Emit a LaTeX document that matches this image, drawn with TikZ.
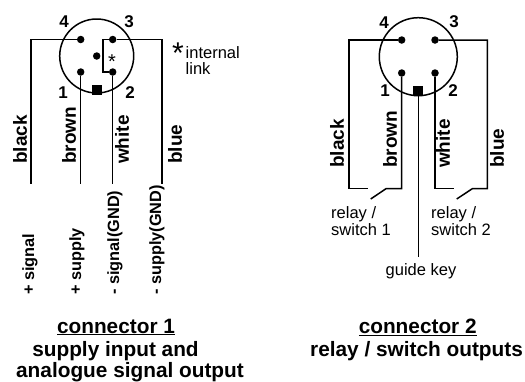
\documentclass[tikz,border=0pt]{standalone}
\usepackage{fontspec}
\setmainfont{Liberation Sans}
\usepackage{tikz}

\tikzset{
  body/.style={draw,circle,line width=1.5pt,inner sep=0pt},
  contactpin/.style={fill,circle,inner sep=0pt,minimum size=7.5pt},
  guidekey/.style={fill,inner sep=0pt,minimum size=10pt},
  wire/.style={line width=1.5pt},
  pinno/.style={font=\fontsize{17}{17}\selectfont\bfseries,inner sep=0pt},
  colour/.style={font=\fontsize{19}{19}\selectfont\bfseries,rotate=90,anchor=west,inner sep=0pt},
  usage/.style={font=\fontsize{16.3}{16.3}\selectfont\bfseries,rotate=90,anchor=west,inner sep=0pt},
  note/.style={font=\fontsize{16.5}{16.5}\selectfont,anchor=west,inner sep=0pt},
  heading/.style={font=\fontsize{20.8}{20.8}\selectfont\bfseries,inner sep=0pt}
}

\begin{document}
\begin{tikzpicture}[x=1pt,y=-1pt]
  \useasboundingbox (0,0) rectangle (525,381);
  %left
  %body and pins
  \node[body,minimum size=74pt,at={(96.7,56)}] (lbody) {};
  \node[contactpin,at={(80.7,39.5)}] (l4) {};
  \node[contactpin,at={(112.7,39.5)}] (l3) {};
  \node[contactpin,at={(80.7,72)}] (l1) {};
  \node[contactpin,at={(112.7,72)}] (l2) {};
  \node[contactpin,at={(96.7,56)}] (lmid) {};
  \node[guidekey,at={(96.7,89.5)}] (lkey) {};
  \node[pinno,at={(64,22)}] (lno4) {4};
  \node[pinno,at={(129,22)}] (lno3) {3};
  \node[pinno,at={(63,93)}] (lno1) {1};
  \node[pinno,at={(130,93)}] (lno2) {2};
  %wires
  \coordinate (lblack) at (31,184);
  \coordinate (lbrown) at (80.7,184);
  \coordinate (lwhite) at (112.7,184);
  \coordinate (lblue) at (162,184);
  \coordinate (llink) at (103,56);
  \draw[wire] (l4) -| (lblack);
  \draw[wire] (l1) -- (lbrown);
  \draw[wire] (l2) -- (lwhite);
  \draw[wire] (l3) -| (lblue);
  \draw[wire] (l3) -| (llink) |- (l2);
  \node[font=\fontsize{20}{20}\selectfont,at={(112,62)},inner sep=0pt] (lstar) {*};
  \node[font=\fontsize{30}{30}\selectfont,at={(178,53)},inner sep=0pt] (nstar) {*};
  \node[note,at={(185.5,53)}] (ninternal) {internal};
  \node[note,at={(185.5,69)}] (nlink) {link};
  \node[colour,at={(20,164)}] (tblack) {black};
  \node[colour,at={(69,164)}] (tbrown) {brown};
  \node[colour,at={(122,164)}] (twhite) {white};
  \node[colour,at={(175,164)}] (tblue) {blue};
  %usage
  \node[usage,at={(30,295)}] (usig) {+ signal};
  \node[usage,at={(77,295)}] (usup) {+ supply};
  \node[usage,at={(115,295)}] (ugsig) {- signal(GND)};
  \node[usage,at={(157,295)}] (ugsup) {- supply(GND)};
  \node[heading,at={(116,327)}] (lhead) {\underline{connector 1}};
  \node[heading,at={(115.5,351)}] (lsub) {supply input and};
  \node[heading,at={(130,372)}] (lsubb) {analogue signal output};

  %right
  %body and pins
  \node[body,minimum size=78pt,at={(418.3,56.7)}] (rbody) {};
  \node[contactpin,at={(401.7,40)}] (r4) {};
  \node[contactpin,at={(435,40)}] (r3) {};
  \node[contactpin,at={(401.7,73)}] (r1) {};
  \node[contactpin,at={(435,73)}] (r2) {};
  \node[guidekey,at={(418.3,90.7)}] (rkey) {};
  \node[pinno,at={(384,23)}] (rno4) {4};
  \node[pinno,at={(454,22)}] (rno3) {3};
  \node[pinno,at={(385,91)}] (rno1) {1};
  \node[pinno,at={(453,91)}] (rno2) {2};
  %wires
  \coordinate (rcornera) at (349,188.7);
  \coordinate (ropena) at (368,188.7);
  \coordinate (rbladea) at (370.7,199);
  \coordinate (rhingea) at (386,188.7);
  \coordinate (ropenb) at (454,188.7);
  \coordinate (rbladeb) at (456.7,199);
  \coordinate (rhingeb) at (472.3,188.7);
  \coordinate (rcornerb) at (487.3,188.7);
  \coordinate (rkeyend) at (418.3,256.7);
  \draw[wire] (r4) -| (rcornera) -- (ropena);
  \draw[wire] (rbladea) -- (rhingea) -| (r1);
  \draw[wire] (r2) |- (ropenb);
  \draw[wire] (rbladeb) -- (rhingeb) -- (rcornerb) |- (r3);
  \draw[wire] (rkey) -- (rkeyend);
  \node[colour,at={(337,168)}] (rblack) {black};
  \node[colour,at={(390,168)}] (rbrown) {brown};
  \node[colour,at={(443,168)}] (rwhite) {white};
  \node[colour,at={(497,168)}] (rblue) {blue};
  \node[note,at={(331,214)}] (rrelaya) {relay /};
  \node[note,at={(331,230)}] (rswitcha) {switch 1};
  \node[note,at={(431,214)}] (rrelayb) {relay /};
  \node[note,at={(431,230)}] (rswitchb) {switch 2};
  \node[note,anchor=center,at={(421,271)}] (rguide) {guide key};
  \node[heading,at={(417.7,327)}] (rhead) {\underline{connector 2}};
  \node[heading,anchor=west,at={(310,351)}] (rsub) {relay / switch outputs};
\end{tikzpicture}
\end{document}
